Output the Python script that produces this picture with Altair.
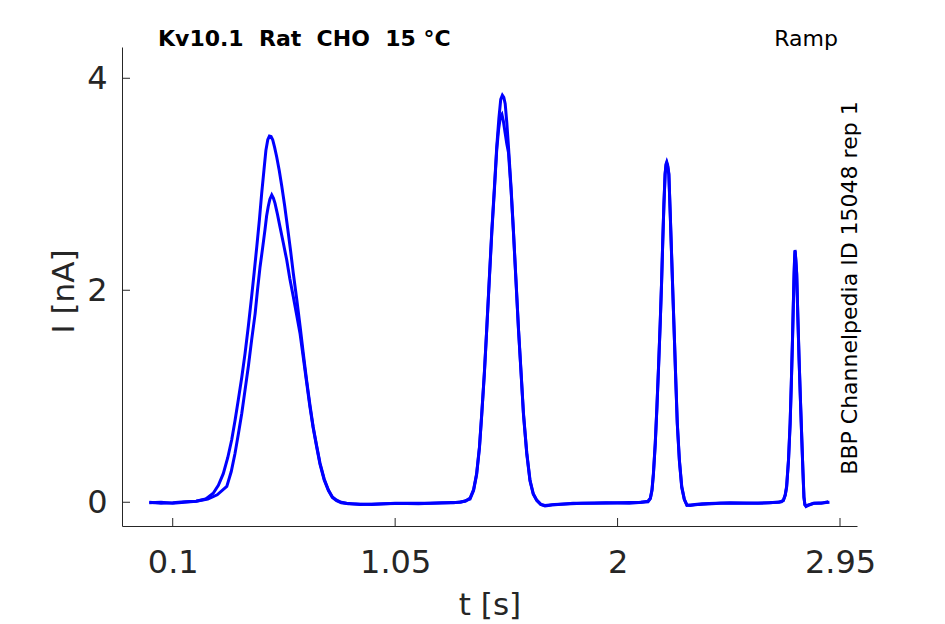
import altair as alt
import pandas as pd

# ---- data ----
# sweep A (outer trace)
t_a = [0.0, 0.05, 0.1, 0.15, 0.2, 0.24, 0.273, 0.295, 0.316, 0.335, 0.352, 0.366, 0.380, 0.395,
       0.409, 0.423, 0.437, 0.448, 0.459, 0.470, 0.480, 0.490, 0.498, 0.506, 0.513, 0.520, 0.527,
       0.535, 0.544, 0.555, 0.566, 0.578, 0.590, 0.603, 0.615, 0.630, 0.644, 0.658, 0.672, 0.686,
       0.700, 0.715, 0.729, 0.747, 0.765, 0.782, 0.800, 0.820, 0.843, 0.900, 1.000, 1.100, 1.200,
       1.300, 1.350, 1.370, 1.385, 1.398, 1.410, 1.420, 1.431, 1.441, 1.452, 1.463, 1.474, 1.484,
       1.493, 1.501, 1.508, 1.514, 1.520, 1.527, 1.534, 1.545, 1.555, 1.566, 1.577, 1.588, 1.598,
       1.612, 1.626, 1.640, 1.655, 1.672, 1.690, 1.720, 1.810, 1.900, 2.000, 2.100, 2.130, 2.140,
       2.147, 2.153, 2.161, 2.168, 2.175, 2.182, 2.188, 2.193, 2.198, 2.203, 2.207, 2.210, 2.214,
       2.219, 2.225, 2.231, 2.237, 2.243, 2.249, 2.255, 2.264, 2.274, 2.285, 2.296, 2.310, 2.350,
       2.438, 2.550, 2.650, 2.700, 2.708, 2.716, 2.722, 2.730, 2.737, 2.742, 2.747, 2.751, 2.754,
       2.756, 2.758, 2.761, 2.765, 2.770, 2.775, 2.781, 2.787, 2.792, 2.796, 2.800, 2.805, 2.815,
       2.836, 2.870, 2.900]
i_a = [-0.005, 0.0, -0.01, 0.0, 0.01, 0.03, 0.085, 0.16, 0.27, 0.42, 0.59, 0.77, 0.965, 1.18,
       1.405, 1.66, 1.94, 2.17, 2.41, 2.66, 2.915, 3.14, 3.32, 3.42, 3.455, 3.45, 3.42,
       3.35, 3.26, 3.13, 2.98, 2.80, 2.60, 2.38, 2.16, 1.91, 1.66, 1.40, 1.15, 0.92,
       0.71, 0.53, 0.37, 0.22, 0.116, 0.05, 0.02, 0.0, -0.01, -0.02, -0.015, -0.01, -0.01,
       -0.005, 0.01, 0.04, 0.12, 0.27, 0.52, 0.84, 1.22, 1.63, 2.10, 2.57, 2.97, 3.355,
       3.62, 3.80, 3.84, 3.82, 3.76, 3.58, 3.355, 2.97, 2.57, 2.10, 1.63, 1.22, 0.84,
       0.47, 0.21, 0.08, 0.02, -0.02, -0.035, -0.025, -0.01, -0.01, -0.005, 0.0, 0.01, 0.04,
       0.12, 0.27, 0.56, 0.90, 1.28, 1.69, 2.08, 2.47, 2.82, 3.10, 3.19, 3.21, 3.18,
       3.10, 2.72, 2.32, 1.92, 1.53, 1.13, 0.75, 0.40, 0.15, 0.03, -0.025, -0.03, -0.02,
       -0.01, -0.01, -0.005, 0.005, 0.02, 0.07, 0.15, 0.40, 0.75, 1.12, 1.53, 1.90, 2.16,
       2.30, 2.38, 2.30, 2.16, 1.75, 1.37, 0.97, 0.59, 0.28, 0.05, -0.02, -0.04, -0.03,
       -0.01, -0.01, 0.005]

# sweep B (inner trace)
t_b = [0.0, 0.05, 0.1, 0.15, 0.2, 0.25, 0.29, 0.331, 0.350, 0.366, 0.380, 0.395, 0.409, 0.423,
       0.437, 0.452, 0.462, 0.473, 0.484, 0.494, 0.501, 0.508, 0.515, 0.523, 0.530, 0.537, 0.547,
       0.558, 0.572, 0.587, 0.600, 0.615, 0.630, 0.644, 0.658, 0.672, 0.686, 0.700, 0.715, 0.729,
       0.747, 0.765, 0.782, 0.800, 0.820, 0.850, 0.950, 1.050, 1.150, 1.250, 1.330, 1.370, 1.385,
       1.398, 1.410, 1.420, 1.431, 1.441, 1.452, 1.463, 1.474, 1.484, 1.492, 1.500, 1.506, 1.512,
       1.520, 1.527, 1.534, 1.545, 1.555, 1.566, 1.577, 1.588, 1.598, 1.612, 1.626, 1.640, 1.655,
       1.672, 1.690, 1.730, 1.850, 1.950, 2.050, 2.130, 2.140, 2.147, 2.153, 2.161, 2.168, 2.175,
       2.182, 2.188, 2.193, 2.198, 2.203, 2.207, 2.210, 2.214, 2.219, 2.225, 2.231, 2.237, 2.243,
       2.249, 2.255, 2.264, 2.274, 2.285, 2.296, 2.310, 2.360, 2.480, 2.600, 2.690, 2.708, 2.716,
       2.722, 2.730, 2.737, 2.742, 2.747, 2.751, 2.754, 2.756, 2.758, 2.761, 2.765, 2.770, 2.775,
       2.781, 2.787, 2.792, 2.796, 2.800, 2.805, 2.815, 2.840, 2.880, 2.905]
i_b = [0.0, -0.01, -0.005, 0.005, 0.01, 0.03, 0.07, 0.15, 0.29, 0.46, 0.64, 0.84, 1.06, 1.28,
       1.53, 1.78, 2.00, 2.22, 2.40, 2.57, 2.70, 2.79, 2.86, 2.90, 2.87, 2.82, 2.72,
       2.60, 2.45, 2.285, 2.11, 1.94, 1.76, 1.59, 1.36, 1.13, 0.90, 0.70, 0.52, 0.36,
       0.21, 0.11, 0.045, 0.015, -0.005, -0.015, -0.02, -0.01, -0.015, -0.005, 0.0, 0.03, 0.11,
       0.26, 0.51, 0.83, 1.21, 1.62, 2.09, 2.55, 2.95, 3.33, 3.52, 3.64, 3.66, 3.60,
       3.48, 3.38, 3.30, 2.95, 2.56, 2.09, 1.62, 1.21, 0.83, 0.46, 0.20, 0.075, 0.015,
       -0.02, -0.03, -0.02, -0.01, -0.005, -0.01, 0.005, 0.035, 0.11, 0.26, 0.55, 0.89, 1.27,
       1.68, 2.07, 2.46, 2.81, 3.09, 3.18, 3.20, 3.17, 3.09, 2.71, 2.31, 1.91, 1.52,
       1.12, 0.74, 0.39, 0.14, 0.025, -0.03, -0.025, -0.015, -0.005, -0.01, 0.0, 0.015, 0.065,
       0.14, 0.39, 0.74, 1.11, 1.52, 1.89, 2.15, 2.29, 2.37, 2.29, 2.15, 1.74, 1.36,
       0.96, 0.58, 0.27, 0.045, -0.025, -0.035, -0.025, -0.01, -0.005, 0.0]

x_ticks = [0.1, 1.05, 2, 2.95]
y_ticks = [0, 2, 4]
x_domain = [-0.1166, 3.0226]
y_domain = [-0.224, 4.295]

title_text = "Kv10.1\u00a0 Rat\u00a0 CHO\u00a0 15 °C"
protocol_text = "Ramp"
side_text = "BBP Channelpedia ID 15048 rep 1"

# ---- tables ----
rows = []
for k, (tt, ii) in enumerate(zip(t_a, i_a)):
    rows.append({"t": tt, "I": ii, "sweep": "A", "idx": k})
for k, (tt, ii) in enumerate(zip(t_b, i_b)):
    rows.append({"t": tt, "I": ii, "sweep": "B", "idx": k})
df = pd.DataFrame(rows)

AX = "#262626"
FONT = "DejaVu Sans"
xs = alt.Scale(domain=x_domain, nice=False, zero=False)
ys = alt.Scale(domain=y_domain, nice=False, zero=False)

x_axis = alt.Axis(
    values=x_ticks, labelExpr="toString(datum.value)", ticks=False, tickSize=0, grid=False,
    labelFont=FONT, labelFontSize=32, labelColor=AX, labelPadding=21,
    labelFlush=False, labelOverlap=False, labelBound=False,
    domainColor=AX, domainWidth=1,
    title="t [s]", titleFont=FONT, titleFontSize=31, titleFontWeight="normal",
    titleColor=AX, titleY=88, titleBaseline="alphabetic")
y_axis = alt.Axis(
    values=y_ticks, labelExpr="toString(datum.value)", ticks=False, tickSize=0, grid=False,
    labelFont=FONT, labelFontSize=32, labelColor=AX, labelPadding=15,
    labelFlush=False, labelOverlap=False, labelBound=False,
    domainColor=AX, domainWidth=1,
    title="I [nA]", titleFont=FONT, titleFontSize=31, titleFontWeight="normal",
    titleColor=AX, titleX=-49, titleY=244, titleBaseline="alphabetic")

lines = alt.Chart(df).mark_line(color="#0000FF", strokeWidth=3, clip=True).encode(
    x=alt.X("t:Q", scale=xs, axis=x_axis),
    y=alt.Y("I:Q", scale=ys, axis=y_axis),
    detail="sweep:N",
    order="idx:Q",
)

xt = alt.Chart(pd.DataFrame({"t": x_ticks})).mark_rule(color=AX, strokeWidth=1).encode(
    x=alt.X("t:Q", scale=xs, axis=x_axis), y=alt.value(479), y2=alt.value(471))
yt = alt.Chart(pd.DataFrame({"I": y_ticks})).mark_rule(color=AX, strokeWidth=1).encode(
    y=alt.Y("I:Q", scale=ys, axis=y_axis), x=alt.value(0), x2=alt.value(8))

t1 = alt.Chart(pd.DataFrame({"s": [title_text]})).mark_text(
    font=FONT, fontSize=22, fontWeight="bold", color="black", align="left",
    baseline="alphabetic").encode(text="s:N", x=alt.value(36), y=alt.value(-1))
t2 = alt.Chart(pd.DataFrame({"s": [protocol_text]})).mark_text(
    font=FONT, fontSize=22, color="black", align="right",
    baseline="alphabetic").encode(text="s:N", x=alt.value(716), y=alt.value(-1))
t3 = alt.Chart(pd.DataFrame({"s": [side_text]})).mark_text(
    font=FONT, fontSize=22, color="black", align="center", angle=270,
    baseline="alphabetic").encode(text="s:N", x=alt.value(735), y=alt.value(241))

chart = alt.layer(lines, xt, yt, t1, t2, t3).properties(
    width=735, height=479, autosize="none",
    padding={"left": 114, "top": 39, "right": 70, "bottom": 96},
    background="white",
).configure_view(stroke=None)

chart.save("out.html", embed_options={"renderer": "svg", "actions": False})
